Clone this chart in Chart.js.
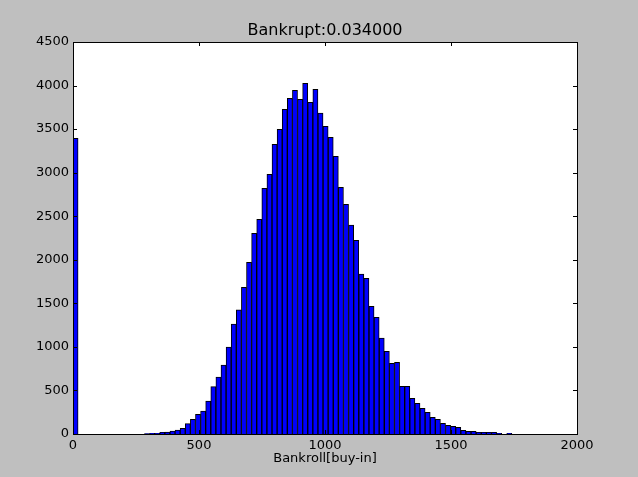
<!DOCTYPE html>
<html><head><meta charset="utf-8">
<script src="https://cdn.jsdelivr.net/npm/chart.js@4.4.1/dist/chart.umd.min.js"></script>
<style>html,body{margin:0;padding:0;background:#bfbfbf;overflow:hidden}canvas{display:block}</style>
</head><body>
<canvas id="c" width="638" height="477"></canvas>
<script>
const titleText = 'Bankrupt:0.034000';
const xLabel = 'Bankroll[buy-in]';
const binWidth = 20.25;
const counts = [
  3394, 0, 0, 0, 0, 0, 0, 0, 0, 0,
  0, 0, 0, 0, 6, 8, 8, 19, 22, 34,
  46, 65, 119, 168, 226, 264, 379, 543, 654, 792,
  999, 1263, 1424, 1684, 1971, 2304, 2464, 2820, 2981, 3325,
  3498, 3727, 3853, 3945, 3842, 4026, 3807, 3957, 3685, 3532,
  3406, 3188, 2832, 2637, 2399, 2223, 1837, 1787, 1466, 1339,
  1102, 949, 811, 823, 547, 547, 409, 352, 295, 249,
  191, 168, 122, 99, 88, 77, 42, 31, 31, 19,
  19, 19, 19, 8, 0, 8
];
const xTicks = [0, 500, 1000, 1500, 2000];
const yTicks = [0, 500, 1000, 1500, 2000, 2500, 3000, 3500, 4000, 4500];

const FONT = "'DejaVu Sans', sans-serif";
const bars = counts.map((c, i) => ({ x: (i + 0.5) * binWidth, y: c }));

const framePlugin = {
  id: 'frame',
  beforeDraw(chart) {
    const { ctx, chartArea: a } = chart;
    ctx.save();
    ctx.fillStyle = '#bfbfbf';
    ctx.fillRect(0, 0, chart.width, chart.height);
    ctx.fillStyle = '#ffffff';
    ctx.fillRect(a.left, a.top, a.right - a.left, a.bottom - a.top);
    ctx.restore();
  },
  afterDatasetsDraw(chart) {
    const { ctx, chartArea: a, scales } = chart;
    const L = 4;
    ctx.save();
    ctx.strokeStyle = '#000';
    ctx.lineWidth = 1;
    ctx.beginPath();
    xTicks.forEach(v => {
      const px = Math.round(scales.x.getPixelForValue(v)) + 0.5;
      ctx.moveTo(px, a.bottom); ctx.lineTo(px, a.bottom - L);
      ctx.moveTo(px, a.top); ctx.lineTo(px, a.top + L);
    });
    yTicks.forEach(v => {
      const py = Math.round(scales.y.getPixelForValue(v)) + 0.5;
      ctx.moveTo(a.left, py); ctx.lineTo(a.left + L, py);
      ctx.moveTo(a.right, py); ctx.lineTo(a.right - L, py);
    });
    ctx.stroke();
    ctx.strokeRect(Math.round(a.left) + 0.5, Math.round(a.top) + 0.5,
                   Math.round(a.right - a.left), Math.round(a.bottom - a.top));
    ctx.restore();
  }
};

new Chart(document.getElementById('c'), {
  type: 'bar',
  data: {
    datasets: [{
      data: bars,
      backgroundColor: '#0000ff',
      borderColor: '#000000',
      borderWidth: 1,
      borderSkipped: 'start',
      barPercentage: 1,
      categoryPercentage: 1
    }]
  },
  options: {
    responsive: false,
    devicePixelRatio: 1,
    animation: false,
    layout: { padding: { left: 12, right: 0, top: 0, bottom: 0 } },
    plugins: {
      legend: { display: false },
      tooltip: { enabled: false },
      title: {
        display: true,
        text: titleText,
        color: '#000',
        font: { family: FONT, size: 16, weight: 'normal', lineHeight: 1.2 },
        padding: { top: 21.2, bottom: 1.6 }
      }
    },
    scales: {
      x: {
        type: 'linear',
        min: 0, max: 2000,
        offset: false,
        afterFit(s) { s.height = 43; },
        afterBuildTicks(s) { s.ticks = xTicks.map(v => ({ value: v })); },
        grid: { display: false, drawTicks: false },
        border: { display: false },
        ticks: { color: '#000', font: { family: FONT, size: 13 }, padding: 4, maxRotation: 0, autoSkip: false,
                 callback: v => String(v) },
        title: {
          display: true, text: xLabel, color: '#000',
          font: { family: FONT, size: 13, lineHeight: 1.2 },
          padding: { top: 0, bottom: 10.9 }
        }
      },
      y: {
        type: 'linear',
        min: 0, max: 4500,
        afterFit(s) { s.width = 61; },
        afterBuildTicks(s) { s.ticks = yTicks.map(v => ({ value: v })); },
        grid: { display: false, drawTicks: false },
        border: { display: false },
        ticks: { color: '#000', font: { family: FONT, size: 13 }, padding: 4, callback: v => String(v) }
      },
      yRight: {
        type: 'linear',
        position: 'right',
        min: 0, max: 4500,
        afterFit(s) { s.width = 61; },
        grid: { display: false, drawTicks: false },
        border: { display: false },
        ticks: { display: false }
      }
    }
  },
  plugins: [framePlugin]
});
</script>
</body></html>
